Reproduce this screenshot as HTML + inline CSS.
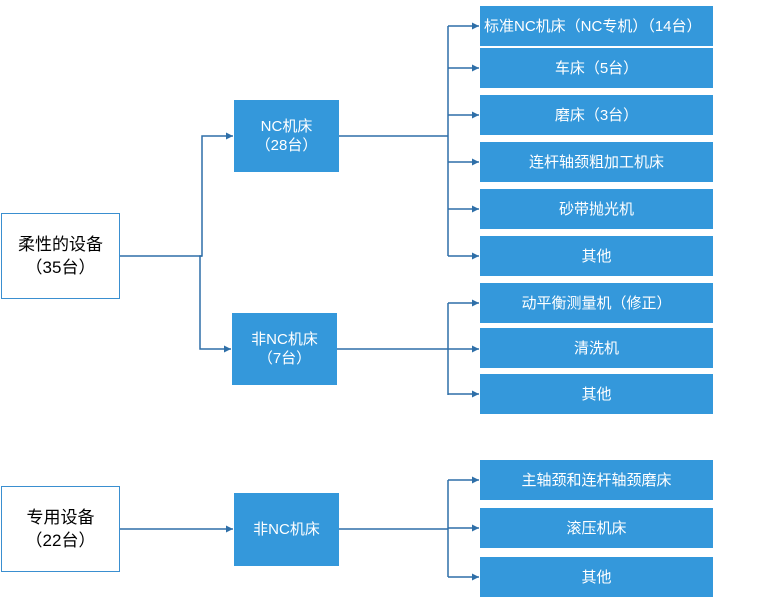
<!DOCTYPE html>
<html><head><meta charset="utf-8"><style>
body{margin:0;width:778px;height:600px;background:#fff;position:relative;overflow:hidden;font-family:"Liberation Sans","Noto Sans CJK SC",sans-serif;}
.b{position:absolute;background:#3498db;color:#fff;font-size:15px;display:flex;align-items:center;justify-content:center;text-align:center;line-height:19px;}
.w{position:absolute;background:#fff;border:1px solid #3a8fd0;color:#000;font-size:17px;display:flex;align-items:center;justify-content:center;text-align:center;line-height:23px;box-sizing:border-box;}
svg{position:absolute;left:0;top:0}
</style></head><body>
<svg width="778" height="600">
<defs><marker id="a" markerWidth="8" markerHeight="8" refX="7" refY="4" orient="auto" markerUnits="userSpaceOnUse"><path d="M0,0.5 L7,4 L0,7.5z" fill="#2e6fa8"/></marker></defs>
<g stroke="#2e6fa8" stroke-width="1.5" fill="none">
<path d="M119,256 H202 V136 H233" marker-end="url(#a)"/>
<path d="M202,256 H200 V349 H231" marker-end="url(#a)"/>
<path d="M338,136 H448"/>
<path d="M448,26 V256"/>
<path d="M448,26 H479" marker-end="url(#a)"/>
<path d="M448,68 H479" marker-end="url(#a)"/>
<path d="M448,115 H479" marker-end="url(#a)"/>
<path d="M448,162 H479" marker-end="url(#a)"/>
<path d="M448,209 H479" marker-end="url(#a)"/>
<path d="M448,256 H479" marker-end="url(#a)"/>
<path d="M337,349 H448"/>
<path d="M448,303 V395"/>
<path d="M448,303 H479" marker-end="url(#a)"/>
<path d="M448,349 H479" marker-end="url(#a)"/>
<path d="M448,394 H479" marker-end="url(#a)"/>
<path d="M119,529 H233" marker-end="url(#a)"/>
<path d="M339,529 H448"/>
<path d="M448,480 V577"/>
<path d="M448,480 H479" marker-end="url(#a)"/>
<path d="M448,528 H479" marker-end="url(#a)"/>
<path d="M448,577 H479" marker-end="url(#a)"/>
</g></svg>
<div class="w" style="left:1px;top:213px;width:119px;height:86px">柔性的设备<br>（35台）</div>
<div class="w" style="left:1px;top:486px;width:119px;height:86px">专用设备<br>（22台）</div>
<div class="b" style="left:234px;top:100px;width:105px;height:72px">NC机床<br>（28台）</div>
<div class="b" style="left:232px;top:313px;width:105px;height:72px">非NC机床<br>（7台）</div>
<div class="b" style="left:234px;top:493px;width:105px;height:73px">非NC机床</div>
<div class="b" style="left:480px;top:6px;width:233px;height:40px;justify-content:flex-start;padding-left:4px;box-sizing:border-box">标准NC机床（NC专机）（14台）</div>
<div class="b" style="left:480px;top:48px;width:233px;height:40px">车床（5台）</div>
<div class="b" style="left:480px;top:95px;width:233px;height:40px">磨床（3台）</div>
<div class="b" style="left:480px;top:142px;width:233px;height:40px">连杆轴颈粗加工机床</div>
<div class="b" style="left:480px;top:189px;width:233px;height:40px">砂带抛光机</div>
<div class="b" style="left:480px;top:236px;width:233px;height:40px">其他</div>
<div class="b" style="left:480px;top:283px;width:233px;height:40px">动平衡测量机（修正）</div>
<div class="b" style="left:480px;top:328px;width:233px;height:40px">清洗机</div>
<div class="b" style="left:480px;top:374px;width:233px;height:40px">其他</div>
<div class="b" style="left:480px;top:460px;width:233px;height:40px">主轴颈和连杆轴颈磨床</div>
<div class="b" style="left:480px;top:508px;width:233px;height:40px">滚压机床</div>
<div class="b" style="left:480px;top:557px;width:233px;height:40px">其他</div>
</body></html>
